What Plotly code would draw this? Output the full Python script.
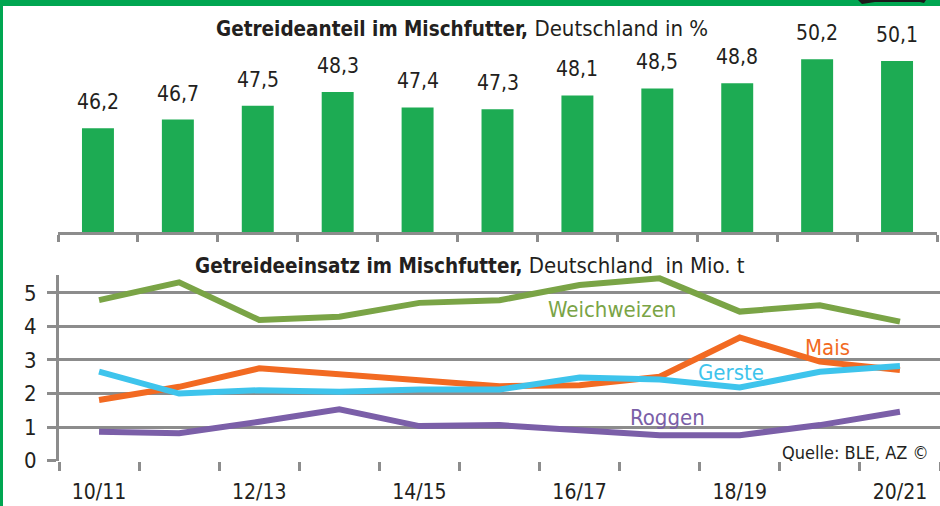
import plotly.graph_objects as go

# ---------------- data ----------------
seasons = ["10/11", "11/12", "12/13", "13/14", "14/15", "15/16",
           "16/17", "17/18", "18/19", "19/20", "20/21"]
anteil = [46.2, 46.7, 47.5, 48.3, 47.4, 47.3, 48.1, 48.5, 48.8, 50.2, 50.1]

weichweizen = [4.78, 5.31, 4.19, 4.29, 4.70, 4.78, 5.23, 5.43, 4.44, 4.63, 4.14]
mais        = [1.81, 2.20, 2.75, 2.58, 2.42, 2.22, 2.25, 2.50, 3.67, 2.95, 2.70]
gerste      = [2.65, 2.00, 2.10, 2.05, 2.12, 2.12, 2.48, 2.42, 2.18, 2.65, 2.82]
roggen      = [0.86, 0.82, 1.16, 1.53, 1.03, 1.06, 0.91, 0.76, 0.76, 1.06, 1.46]

series_names = ["Weichweizen", "Roggen", "Mais", "Gerste"]
label_x = [6.4, 7.1, 9.1, 7.89]
label_y = [4.49, 1.30, 3.38, 2.64]

y2_ticks = [0, 1, 2, 3, 4, 5]
label_idx = [0, 2, 4, 6, 8, 10]

# ---------------- style ----------------
W, H = 940, 506
FONT = "DejaVu Sans Condensed, Liberation Sans Narrow, sans-serif"
TXT = "#231f20"
GRAY = "#8c8c8c"
BAR = "#1dab53"
FRAME = "#00a651"
colors = {"Weichweizen": "#7aa446", "Mais": "#f26a22",
          "Gerste": "#3ec4ec", "Roggen": "#7b5fa8"}
data_map = {"Weichweizen": weichweizen, "Mais": mais,
            "Gerste": gerste, "Roggen": roggen}

n = len(seasons)
xs = list(range(n))
bounds = [i - 0.5 for i in range(n + 1)]

def py(px):
    return 1 - px / H

def px_path(points):
    return "M " + " L ".join(f"{x / W:.5f},{py(y):.5f}" for x, y in points) + " Z"

fig = go.Figure()

fig.add_trace(go.Bar(x=xs, y=anteil, width=0.4, marker_color=BAR,
                     marker_line_width=0, xaxis="x", yaxis="y",
                     showlegend=False, hoverinfo="skip"))

for name in series_names:
    fig.add_trace(go.Scatter(x=xs, y=data_map[name], mode="lines",
                             line=dict(color=colors[name], width=6),
                             xaxis="x2", yaxis="y2", showlegend=False,
                             hoverinfo="skip"))

annotations = []
for i, v in enumerate(anteil):
    annotations.append(dict(x=i, y=v, xref="x", yref="y",
                            text=f"{v:.1f}".replace(".", ","),
                            showarrow=False, yanchor="bottom", yshift=12,
                            font=dict(family=FONT, size=21, color=TXT)))
for name, lx, ly in zip(series_names, label_x, label_y):
    annotations.append(dict(x=lx, y=ly, xref="x2", yref="y2", text=name,
                            showarrow=False, yanchor="middle",
                            font=dict(family=FONT, size=22, color=colors[name])))
annotations += [
    dict(x=462 / W, y=py(28), xref="paper", yref="paper", showarrow=False,
         yanchor="middle",
         text="<b><span style='font-size:20.5px'>Getreideanteil im Mischfutter,</span></b> Deutschland in %",
         font=dict(family=FONT, size=22, color=TXT)),
    dict(x=470 / W, y=py(265), xref="paper", yref="paper", showarrow=False,
         yanchor="middle",
         text="<b><span style='font-size:20.5px'>Getreideeinsatz im Mischfutter,</span></b> Deutschland  in Mio. t",
         font=dict(family=FONT, size=22, color=TXT)),
    dict(x=931 / W, y=py(452), xref="paper", yref="paper", showarrow=False,
         xanchor="right", yanchor="middle", text="Quelle: BLE, AZ ©",
         font=dict(family=FONT, size=18, color=TXT)),
]

y_base = 40.18
ppu = 17.25
fig.update_layout(
    template="none",
    width=W, height=H, autosize=False, margin=dict(l=0, r=0, t=0, b=0, pad=0),
    paper_bgcolor="white", plot_bgcolor="white",
    font=dict(family=FONT, size=21, color=TXT),
    separators=",.",
    xaxis=dict(domain=[58 / W, 937 / W], range=[-0.5, n - 0.5],
               tickmode="array", tickvals=bounds, ticks="outside",
               ticklen=7, tickwidth=3, tickcolor=GRAY,
               showticklabels=False, showline=True, linewidth=3,
               linecolor=GRAY, showgrid=False, zeroline=False, anchor="y",
               automargin=False),
    yaxis=dict(domain=[py(232), py(40)],
               range=[y_base, y_base + (232 - 40) / ppu],
               visible=False, anchor="x", automargin=False),
    xaxis2=dict(domain=[59 / W, 1], range=[-0.5, n - 0.5],
                tickmode="array", tickvals=label_idx,
                ticktext=[seasons[i] for i in label_idx],
                ticks="outside", ticklen=12, tickcolor="rgba(0,0,0,0)",
                minor=dict(tickmode="array", tickvals=bounds,
                           ticks="outside", ticklen=9, tickwidth=3,
                           tickcolor=GRAY, showgrid=False),
                showgrid=False, zeroline=False, showline=False,
                anchor="y2", automargin=False,
                tickfont=dict(family=FONT, size=21, color=TXT)),
    yaxis2=dict(domain=[py(460.7), py(275)], range=[0, 5.53],
                tickmode="array", tickvals=y2_ticks, ticks="outside",
                ticklen=9, tickwidth=3, tickcolor=GRAY,
                ticklabelstandoff=6,
                showgrid=True, gridcolor=GRAY, gridwidth=3,
                showline=True, linewidth=3, linecolor=GRAY,
                zeroline=False, anchor="x2", automargin=False,
                tickfont=dict(family=FONT, size=22, color=TXT)),
    annotations=annotations,
    shapes=[
        dict(type="rect", xref="paper", yref="paper", x0=0, x1=1,
             y0=py(6), y1=1, fillcolor=FRAME, line_width=0, layer="above"),
        dict(type="rect", xref="paper", yref="paper", x0=0, x1=3 / W,
             y0=0, y1=1, fillcolor=FRAME, line_width=0, layer="above"),
        dict(type="path", xref="paper", yref="paper", layer="above",
             path=px_path([(858, 0), (926, 0), (924, 3), (920, 2),
                           (875, 2), (862, 4)]),
             fillcolor="#1a1a1a", line_width=0),
    ],
)

fig.write_html("out.html",
               config={"displayModeBar": False, "responsive": False},
               post_script="document.body.style.margin='0px';"
                           "document.body.style.overflow='hidden';")
